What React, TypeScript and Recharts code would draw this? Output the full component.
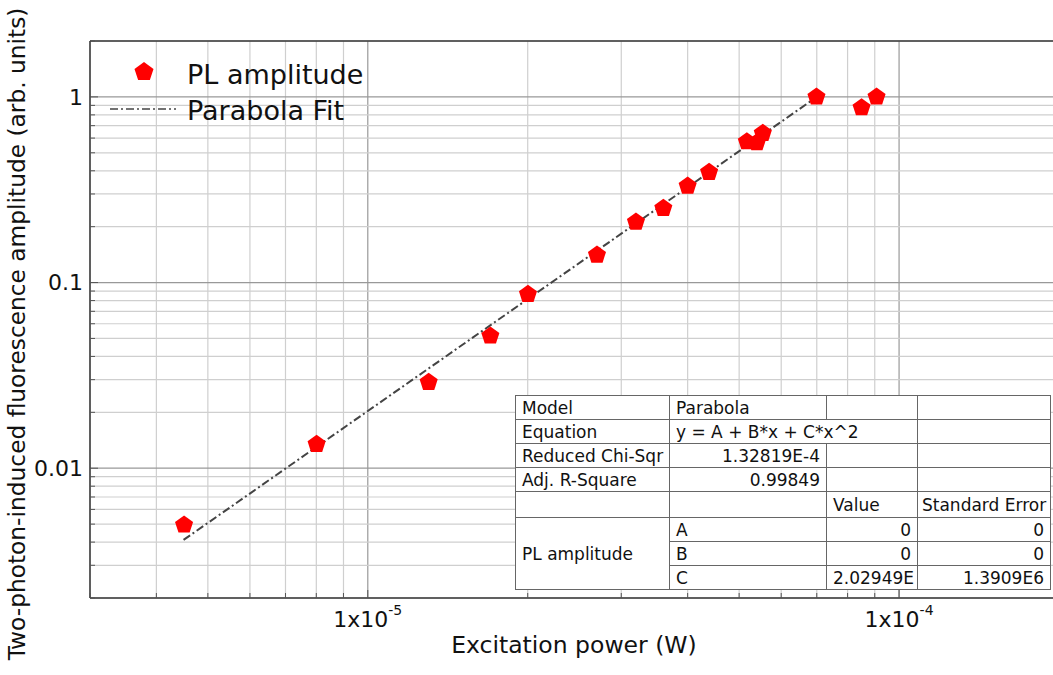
import { ScatterChart, Scatter, XAxis, YAxis, ReferenceLine, Legend } from 'recharts'

// measured points (W, arb. units)
const powerW = [4.51e-6, 8.01e-6, 1.302e-5, 1.701e-5, 2.002e-5, 2.7e-5, 3.197e-5, 3.6e-5, 4.0e-5, 4.39e-5, 5.17e-5, 5.4e-5, 5.54e-5, 6.99e-5, 8.5e-5, 9.07e-5]
const plAmplitude = [0.00495, 0.01346, 0.02904, 0.0516, 0.0865, 0.1408, 0.212, 0.2513, 0.3313, 0.3926, 0.5739, 0.567, 0.637, 1.0, 0.8748, 1.0]

// parabola fit end points
const fitPower = [4.5e-6, 7.0e-5]
const fitAmplitude = [0.00411, 1.0]

const xTicks = [3e-6, 4e-6, 5e-6, 6e-6, 7e-6, 8e-6, 9e-6, 1e-5, 2e-5, 3e-5, 4e-5, 5e-5, 6e-5, 7e-5, 8e-5, 9e-5, 1e-4, 2e-4]
const xMajor = [1e-5, 1e-4]
const yTicks = [0.002, 0.003, 0.004, 0.005, 0.006, 0.007, 0.008, 0.009, 0.01, 0.02, 0.03, 0.04, 0.05, 0.06, 0.07, 0.08, 0.09, 0.1, 0.2, 0.3, 0.4, 0.5, 0.6, 0.7, 0.8, 0.9, 1, 2]
const yMajor = [0.01, 0.1, 1]

const tableRows = [
  ['Model', 'Parabola'],
  ['Equation', 'y = A + B*x + C*x^2'],
  ['Reduced Chi-Sqr', '1.32819E-4'],
  ['Adj. R-Square', '0.99849'],
]
const paramNames = ['A', 'B', 'C']
const paramValues = ['0', '0', '2.02949E']
const paramErrors = ['0', '0', '1.3909E6']

const points = powerW.map((x, i) => ({ x, y: plAmplitude[i] }))
const fit = fitPower.map((x, i) => ({ x, y: fitAmplitude[i] }))

const FONT = '"DejaVu Sans", Verdana, sans-serif'

function pentagon(cx: number, cy: number, r: number) {
  const pts = []
  for (let k = 0; k < 5; k++) {
    const a = -Math.PI / 2 + (k * 2 * Math.PI) / 5
    pts.push(`${cx + r * Math.cos(a)},${cy + r * Math.sin(a)}`)
  }
  return pts.join(' ')
}

const Marker = (props: any) => <polygon points={pentagon(props.cx, props.cy, 9.5)} fill="#ff0000" />

const XTick = ({ x, y, payload }: any) => {
  const v = payload.value
  const major = xMajor.includes(v)
  return (
    <g>
      <line x1={x} x2={x} y1={y} y2={y - (major ? 8 : 5)} stroke="#555" />
      {major && (
        <text x={x} y={y + 29} textAnchor="middle" fontSize={22} fill="#111" fontFamily={FONT}>
          1x10<tspan dy={-12} fontSize={14}>{Math.round(Math.log10(v))}</tspan>
        </text>
      )}
    </g>
  )
}

const YTick = ({ x, y, payload }: any) => {
  const v = payload.value
  const major = yMajor.includes(v)
  return (
    <g>
      <line x1={x} x2={x + (major ? 8 : 5)} y1={y} y2={y} stroke="#555" />
      {major && (
        <text x={x - 7} y={y} dy="0.36em" textAnchor="end" fontSize={22} fill="#111" fontFamily={FONT}>
          {String(v)}
        </text>
      )}
    </g>
  )
}

const LegendBox = () => (
  <svg width={400} height={140}>
    <polygon points={pentagon(144, 72, 10)} fill="#ff0000" />
    <text x={187} y={84} fontSize={27} fill="#111" fontFamily={FONT}>PL amplitude</text>
    <line x1={110} x2={176} y1={109} y2={109} stroke="#444" strokeWidth={1.5} strokeDasharray="8 3 2 3" />
    <text x={187} y={120} fontSize={27} fill="#111" fontFamily={FONT}>Parabola Fit</text>
  </svg>
)

const cell: any = { border: '1px solid #666', height: 23, padding: '0 6px', whiteSpace: 'nowrap' }

export default function App() {
  return (
    <div style={{ position: 'absolute', left: 0, top: 0, width: 1053, height: 675, overflow: 'hidden', background: '#fff', fontFamily: FONT }}>
      <ScatterChart width={1060} height={675} margin={{ top: 41, right: 1, bottom: 0, left: 0 }}>
        <XAxis
          type="number"
          dataKey="x"
          scale="log"
          domain={[3e-6, 2e-4]}
          allowDataOverflow
          ticks={xTicks}
          interval={0}
          tick={<XTick />}
          tickLine={false}
          tickSize={0}
          tickMargin={0}
          height={77}
          axisLine={{ stroke: '#333', strokeWidth: 1.5 }}
          label={{
            content: () => (
              <text x={574} y={653} textAnchor="middle" fontSize={23.5} fill="#111" fontFamily={FONT}>Excitation power (W)</text>
            ),
          }}
        />
        <YAxis
          type="number"
          dataKey="y"
          scale="log"
          domain={[0.002, 2]}
          allowDataOverflow
          ticks={yTicks}
          interval={0}
          tick={<YTick />}
          tickLine={false}
          tickSize={0}
          tickMargin={0}
          width={90}
          axisLine={{ stroke: '#333', strokeWidth: 1.5 }}
          label={{
            content: () => (
              <text x={17} y={334} transform="rotate(-90 17 334)" textAnchor="middle" dy="0.36em" fontSize={23.3} fill="#111" fontFamily={FONT}>
                Two-photon-induced fluorescence amplitude (arb. units)
              </text>
            ),
          }}
        />
        {xTicks.map((v) => (
          <ReferenceLine key={'x' + v} x={v} stroke={xMajor.includes(v) ? '#999' : '#cfcfcf'} strokeWidth={1.2} />
        ))}
        {yTicks.map((v) => (
          <ReferenceLine key={'y' + v} y={v} stroke={yMajor.includes(v) ? '#999' : '#cfcfcf'} strokeWidth={1.2} />
        ))}
        <ReferenceLine y={2} stroke="#333" strokeWidth={1.5} />
        <Legend
          layout="vertical"
          align="center"
          verticalAlign="middle"
          wrapperStyle={{ left: 0, top: 0, width: 400, height: 140 }}
          content={() => <LegendBox />}
        />
        <Scatter
          name="Parabola Fit"
          data={fit}
          line={{ stroke: '#444', strokeWidth: 2, strokeDasharray: '8 3 2 3' }}
          shape={() => <g />}
          isAnimationActive={false}
        />
        <Scatter name="PL amplitude" data={points} shape={<Marker />} isAnimationActive={false} />
      </ScatterChart>
      <table
        style={{
          position: 'absolute',
          left: 515,
          top: 395,
          borderCollapse: 'collapse',
          background: '#fff',
          fontSize: 17,
          color: '#111',
          fontFamily: FONT,
          border: '1px solid #444',
          tableLayout: 'fixed',
          width: 535,
        }}
      >
        <colgroup>
          <col style={{ width: 154 }} />
          <col style={{ width: 157 }} />
          <col style={{ width: 91 }} />
          <col style={{ width: 133 }} />
        </colgroup>
        <tbody>
          <tr>
            <td style={cell}>{tableRows[0][0]}</td>
            <td style={cell}>{tableRows[0][1]}</td>
            <td style={cell}></td>
            <td style={cell}></td>
          </tr>
          <tr>
            <td style={cell}>{tableRows[1][0]}</td>
            <td style={cell} colSpan={2}>{tableRows[1][1]}</td>
            <td style={cell}></td>
          </tr>
          {tableRows.slice(2).map((r) => (
            <tr key={r[0]}>
              <td style={cell}>{r[0]}</td>
              <td style={{ ...cell, textAlign: 'right' }}>{r[1]}</td>
              <td style={cell}></td>
              <td style={cell}></td>
            </tr>
          ))}
          <tr>
            <td style={{ ...cell, height: 25 }}></td>
            <td style={cell}></td>
            <td style={cell}>Value</td>
            <td style={{ ...cell, padding: '0 4px' }}>Standard Error</td>
          </tr>
          {paramNames.map((p, i) => (
            <tr key={p}>
              {i === 0 && (
                <td style={cell} rowSpan={3}>PL amplitude</td>
              )}
              <td style={cell}>{p}</td>
              <td style={{ ...cell, textAlign: 'right' }}>{paramValues[i]}</td>
              <td style={{ ...cell, textAlign: 'right' }}>{paramErrors[i]}</td>
            </tr>
          ))}
        </tbody>
      </table>
    </div>
  )
}
